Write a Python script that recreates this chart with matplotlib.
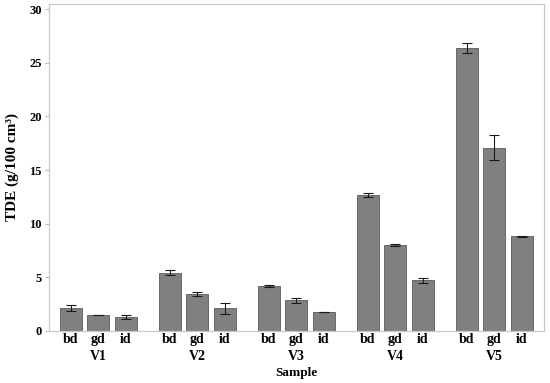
import matplotlib
matplotlib.use("Agg")
import matplotlib.pyplot as plt
import numpy as np

groups = ["V1", "V2", "V3", "V4", "V5"]
subs = ["bd", "gd", "id"]
values = [
    [2.1, 1.45, 1.25],
    [5.42, 3.4, 2.1],
    [4.2, 2.85, 1.75],
    [12.65, 8.0, 4.7],
    [26.4, 17.1, 8.8],
]
errors = [
    [0.28, 0.03, 0.2],
    [0.25, 0.2, 0.5],
    [0.1, 0.22, 0.03],
    [0.2, 0.1, 0.25],
    [0.45, 1.2, 0.05],
]

plt.rcParams['font.family'] = ['Liberation Serif', 'DejaVu Serif']
fig = plt.figure(figsize=(5.5, 3.83), dpi=100)
ax = fig.add_axes([0.089, 0.1366, 0.9, 0.853])

gap = 3.6
xs, vals, errs, labels = [], [], [], []
for g, grp in enumerate(groups):
    for i, s in enumerate(subs):
        xs.append(g * gap + i)
        vals.append(values[g][i])
        errs.append(errors[g][i])
        labels.append(s)

ax.bar(xs, vals, width=0.8, color='#808080', edgecolor='#5a5a5a', linewidth=0.6, zorder=2)
ax.errorbar(xs, vals, yerr=errs, fmt='none', ecolor='#1a1a1a', elinewidth=0.8, capsize=3.6, capthick=0.8, zorder=3)

ax.set_xlim(-0.8, 4 * gap + 2 + 0.8)
ax.set_ylim(0, 30.5)
ax.set_yticks([0, 5, 10, 15, 20, 25, 30])
ax.set_xticks(xs)
ax.set_xticklabels(labels, fontsize=10, fontweight='bold')
for t in ax.get_yticklabels():
    t.set_fontweight('bold')
    t.set_fontsize(9)
ax.tick_params(axis='x', length=0, pad=1.5)
ax.tick_params(axis='y', length=3, color='#bbbbbb', width=0.8, pad=2)
for sp in ax.spines.values():
    sp.set_color('#c8c8c8')
    sp.set_linewidth(0.9)

for g, grp in enumerate(groups):
    ax.text(g * gap + 1, -2.45, grp, ha='center', va='center', fontsize=10, fontweight='bold',
            transform=ax.transData, clip_on=False)

fig.text(0.5 * (0.089 + 0.989), (383 - 373) / 383, "Sample", ha='center', va='center',
         fontsize=9.5, fontweight='bold')
fig.text(12 / 550, 0.5 * (0.1366 + 0.9896), "TDE (g/100 cm\u00b3)", rotation=90,
         ha='center', va='center', fontsize=11, fontweight='bold')

fig.savefig("out.png", dpi=100)
